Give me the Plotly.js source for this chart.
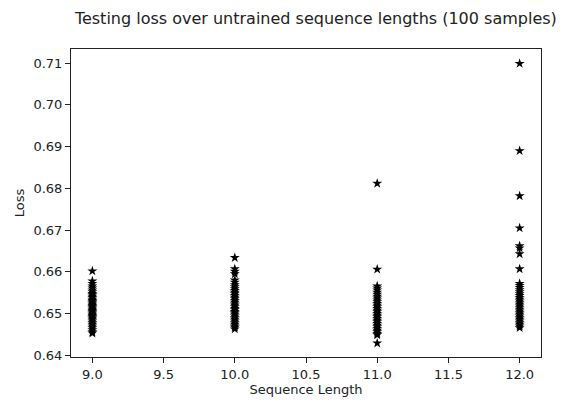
<!DOCTYPE html>
<html>
<head>
<meta charset="utf-8">
<script src="https://cdn.plot.ly/plotly-3.0.1.min.js"></script>
<style>html,body{margin:0;padding:0;background:#fff}#chart{width:562px;height:403px}</style>
</head>
<body>
<div id="chart"></div>
<script>
var seqLengths = [9, 10, 11, 12];
var loss9 = [0.6602, 0.6578, 0.6572, 0.6566, 0.6561, 0.6556, 0.6552, 0.6548, 0.6545, 0.6541, 0.6538, 0.6534, 0.6531, 0.6528, 0.6525, 0.6522, 0.6519, 0.6516, 0.6513, 0.6510, 0.6507, 0.6504, 0.6501, 0.6498, 0.6495, 0.6492, 0.6489, 0.6486, 0.6482, 0.6478, 0.6474, 0.6470, 0.6466, 0.6461, 0.6456, 0.6453];
var loss10 = [0.6634, 0.6607, 0.6601, 0.6595, 0.6580, 0.6575, 0.6569, 0.6564, 0.6559, 0.6555, 0.6551, 0.6547, 0.6543, 0.6539, 0.6535, 0.6531, 0.6527, 0.6523, 0.6520, 0.6516, 0.6512, 0.6509, 0.6505, 0.6502, 0.6498, 0.6494, 0.6490, 0.6486, 0.6482, 0.6478, 0.6474, 0.6470, 0.6467, 0.6463];
var loss11 = [0.6812, 0.6606, 0.6566, 0.6561, 0.6556, 0.6551, 0.6546, 0.6541, 0.6537, 0.6532, 0.6528, 0.6524, 0.6520, 0.6516, 0.6512, 0.6508, 0.6504, 0.6500, 0.6496, 0.6492, 0.6488, 0.6484, 0.6480, 0.6476, 0.6472, 0.6468, 0.6464, 0.6460, 0.6456, 0.6452, 0.6449, 0.6429];
var loss12 = [0.7099, 0.6890, 0.6782, 0.6705, 0.6662, 0.6657, 0.6643, 0.6607, 0.6572, 0.6567, 0.6562, 0.6557, 0.6552, 0.6547, 0.6543, 0.6538, 0.6534, 0.6530, 0.6526, 0.6522, 0.6518, 0.6514, 0.6510, 0.6506, 0.6502, 0.6498, 0.6494, 0.6490, 0.6486, 0.6482, 0.6478, 0.6474, 0.6470, 0.6466];
var xTicks = [9.0, 9.5, 10.0, 10.5, 11.0, 11.5, 12.0];
var yTicks = [0.64, 0.65, 0.66, 0.67, 0.68, 0.69, 0.70, 0.71];

var allLoss = [loss9, loss10, loss11, loss12];
var xs = [], ys = [];
for (var i = 0; i < seqLengths.length; i++) {
  for (var j = 0; j < allLoss[i].length; j++) {
    xs.push(seqLengths[i]);
    ys.push(allLoss[i][j]);
  }
}

var trace = {
  x: xs, y: ys, type: 'scatter', mode: 'markers',
  marker: {symbol: 'star', size: 7.5, color: '#000'},
  hoverinfo: 'none'
};

var axisCommon = {
  showgrid: false, zeroline: false, showline: true, mirror: true,
  linecolor: '#222', linewidth: 1, ticks: 'outside', ticklen: 5, tickcolor: '#222',
  tickfont: {family: 'DejaVu Sans', size: 13, color: '#222'}
};

var layout = {
  width: 562, height: 403,
  margin: {l: 71, r: 21, t: 49, b: 46},
  paper_bgcolor: '#fff', plot_bgcolor: '#fff',
  showlegend: false,
  title: {text: 'Testing loss over untrained sequence lengths (100 samples)',
          font: {family: 'DejaVu Sans', size: 16, color: '#222'},
          x: 0.562, xref: 'container', xanchor: 'center', y: 0.955, yref: 'container', yanchor: 'middle'},
  xaxis: Object.assign({}, axisCommon, {
    range: [8.85, 12.15], tickvals: xTicks, ticktext: xTicks.map(function(v){return v.toFixed(1);}),
    title: {text: 'Sequence Length', font: {family: 'DejaVu Sans', size: 13, color: '#222'}, standoff: 3}
  }),
  yaxis: Object.assign({}, axisCommon, {
    range: [0.6396, 0.7134], tickvals: yTicks, ticktext: yTicks.map(function(v){return v.toFixed(2);}),
    title: {text: 'Loss', font: {family: 'DejaVu Sans', size: 13, color: '#222'}, standoff: 5}
  })
};

Plotly.newPlot('chart', [trace], layout, {displayModeBar: false, staticPlot: true});
</script>
</body>
</html>
